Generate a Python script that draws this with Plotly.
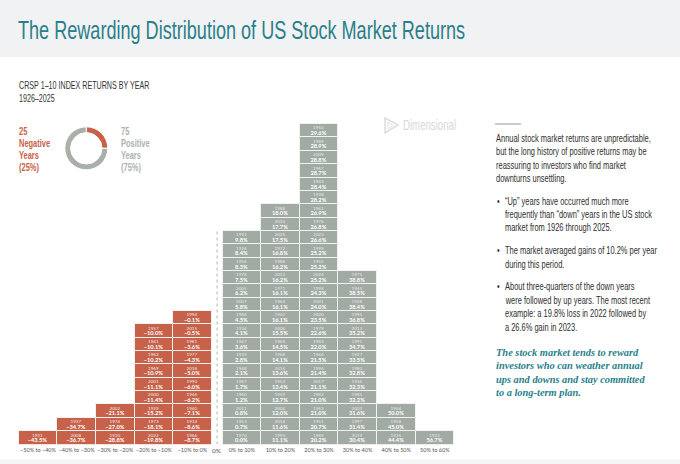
import plotly.graph_objects as go

# Values, lowest return first
years = [
    1931,
    2008, 1937,
    1930, 1974, 2002,
    2022, 1973, 1929, 2000, 2001, 1969, 1962, 1941, 1957,
    1966, 1932, 1940, 1946, 1990, 2018, 1977, 1981, 2015, 1994,
    1970, 1953, 2011, 1960, 1987, 1948, 1939, 1947, 1934, 1984, 2007, 2005, 1978, 1956, 1926, 1992,
    1993, 2014, 2004, 1959, 1952, 2016, 1968, 1965, 2006, 1942, 1964, 1971, 2012, 1986, 1972, 2025, 2010, 1988,
    1949, 1951, 1963, 1982, 2017, 1996, 1944, 1983, 1979, 2020, 2021, 1998, 2024, 1955, 1999, 2023, 1976, 1961,
    1938, 1943, 1967, 2009, 1989, 1950,
    2019, 1997, 2003, 1985, 1936, 1980, 1927, 1991, 2013, 1995, 1928, 1945, 1975,
    1935, 1958, 1954,
    1933,
]
returns = [
    -43.5,
    -36.7, -34.7,
    -28.8, -27.0, -21.1,
    -19.8, -18.1, -15.2, -11.4, -11.1, -10.9, -10.2, -10.1, -10.0,
    -8.7, -8.6, -7.1, -6.2, -6.0, -5.0, -4.3, -3.6, -0.5, -0.1,
    0.0, 0.7, 0.8, 1.2, 1.7, 2.1, 2.8, 3.6, 4.1, 4.5, 5.8, 6.2, 7.5, 8.3, 8.4, 9.8,
    11.1, 11.6, 12.0, 12.7, 13.4, 13.6, 14.1, 14.5, 15.5, 16.1, 16.1, 16.1, 16.2, 16.2, 16.8, 17.5, 17.7, 18.0,
    20.2, 20.7, 21.0, 21.0, 21.1, 21.4, 21.5, 22.0, 22.6, 23.5, 24.0, 24.3, 25.2, 25.2, 25.2, 26.6, 26.8, 26.9,
    28.2, 28.4, 28.7, 28.8, 28.9, 29.6,
    30.4, 31.4, 31.6, 32.2, 32.3, 32.8, 33.5, 34.7, 35.2, 36.8, 38.4, 38.5, 38.8,
    44.4, 45.0, 50.0,
    56.7,
]
bin_labels = ['−50% to −40%', '−40% to −30%', '−30% to −20%', '−20% to −10%', '−10% to 0%',
              '0% to 10%', '10% to 20%', '20% to 30%', '30% to 40%', '40% to 50%', '50% to 60%']
# how many years sit in each bin, in the order of the lists above
bin_counts = [1, 2, 3, 9, 10, 16, 18, 24, 13, 3, 1]
share_labels = ['Negative', 'Positive']
share_values = [25, 75]

RED = '#c8614a'
GREY = '#a1aaa3'
TEAL = '#2a7f8a'
W, H = 680, 464
NARROW = 'Liberation Sans, sans-serif'
SERIF = 'Liberation Serif, serif'
CELL = 'Lato, sans-serif'

# Column spacing in pixels, and a narrow gap for the 0% line
PITCH = 38.6
ROW = 13.35
GAP = 0.28
X0_PX = 38
BASE_PX = 444.5


def px(x):
    return x / W


def py(y):
    return 1 - y / H


def col_x(i):
    return i if i < 5 else i + GAP


x_pos = []
for i, n in enumerate(bin_counts):
    x_pos += [col_x(i)] * n
colors = [RED if r < 0 else GREY for r in returns]
# the base size sets the line spacing, so keep it small and enlarge the value line
cell_text = [
    f"{y}<br><b><span style='font-size:5.7px;color:white'>{'−' if r < 0 else ''}{abs(r):.1f}%</span></b>"
    for y, r in zip(years, returns)
]

fig = go.Figure()

fig.add_trace(go.Bar(
    x=x_pos,
    y=[1] * len(returns),
    width=1,
    text=cell_text,
    textposition='inside',
    insidetextanchor='middle',
    textangle=0,
    constraintext='none',
    textfont=dict(family=CELL, size=4.6, color='#e6e9e6'),
    marker=dict(color=colors, line=dict(color='#f2f2ee', width=1)),
    showlegend=False,
    hoverinfo='skip',
))

# Donut
fig.add_trace(go.Pie(
    labels=share_labels,
    values=share_values,
    hole=0.73,
    sort=False,
    direction='counterclockwise',
    rotation=0,
    textinfo='none',
    marker=dict(colors=[RED, '#a9b0aa'], line=dict(color='white', width=1)),
    domain=dict(x=[px(64.8), px(107.8)], y=[py(169.8), py(126.8)]),
    showlegend=False,
    hoverinfo='skip',
))

# Header band and bottom strip
fig.add_shape(type='rect', xref='paper', yref='paper', x0=0, x1=1, y0=py(57), y1=1,
              fillcolor='#f1f2f4', line_width=0, layer='below')
fig.add_shape(type='rect', xref='paper', yref='paper', x0=0, x1=1, y0=0, y1=py(459),
              fillcolor='#f6f6f6', line_width=0, layer='below')

# Dotted zero line
zero_x = 4.5 + GAP / 2
fig.add_shape(type='line', xref='x', yref='y', x0=zero_x, x1=zero_x, y0=0, y1=16.1,
              line=dict(color='#b5b5b5', width=1, dash='dot'))

# Small rule above the side text
fig.add_shape(type='line', xref='paper', yref='paper', x0=px(495), x1=px(521), y0=py(124), y1=py(124),
              line=dict(color='#b8bcb9', width=1.5))

# Dimensional mark
fig.add_shape(type='path', xref='paper', yref='paper',
              path=f'M {px(385)},{py(118)} L {px(398)},{py(125)} L {px(385)},{py(133)} Z',
              line=dict(color='#dddddd', width=1.5), fillcolor='rgba(0,0,0,0)')
fig.add_shape(type='path', xref='paper', yref='paper',
              path=f'M {px(388)},{py(122)} L {px(393)},{py(125.5)} L {px(388)},{py(129)} Z',
              line=dict(color='#e4e4e4', width=1), fillcolor='rgba(0,0,0,0)')


def note(x, y, text, size, color, family=NARROW, anchor='left'):
    fig.add_annotation(xref='paper', yref='paper', x=px(x), y=py(y), text=text, showarrow=False,
                       xanchor=anchor, yanchor='middle', align=anchor, borderpad=0,
                       font=dict(family=family, size=size, color=color))


note(17, 30, 'The Rewarding Distribution of US Stock Market Returns', 26.6, TEAL)
note(18, 85, 'CRSP 1–10 INDEX RETURNS BY YEAR', 10.5, '#333333')
note(18, 98, '1926–2025', 10.5, '#333333')
note(402, 125, 'Dimensional', 14.2, '#d8d8d8')
note(216.5, 450.5, '0%', 6.5, '#555555', family=CELL, anchor='center')

for y, line in zip([130.5, 142.5, 154.5, 166.5], ['25', 'Negative', 'Years', '(25%)']):
    note(18, y, f'<b>{line}</b>', 11, RED)
for y, line in zip([130.5, 142.5, 154.5, 166.5], ['75', 'Positive', 'Years', '(75%)']):
    note(120, y, f'<b>{line}</b>', 11, '#adb2ae')

body = [
    (495, 137.7, 'Annual stock market returns are unpredictable,'),
    (495, 151.3, 'but the long history of positive returns may be'),
    (495, 164.7, 'reassuring to investors who find market'),
    (495, 178.3, 'downturns unsettling.'),
    (504, 200.7, '“Up” years have occurred much more'),
    (504, 214, 'frequently than “down” years in the US stock'),
    (504, 227.3, 'market from 1926 through 2025.'),
    (504, 250, 'The market averaged gains of 10.2% per year'),
    (504, 263.7, 'during this period.'),
    (504, 286, 'About three-quarters of the down years'),
    (504, 300, 'were followed by up years. The most recent'),
    (504, 313.3, 'example: a 19.8% loss in 2022 followed by'),
    (504, 326.7, 'a 26.6% gain in 2023.'),
]
for x, y, line in body:
    note(x, y, line, 11, '#2e2e2e')
for y in [200.7, 250, 286]:
    note(496, y, '•', 11, '#2e2e2e')

closing = [
    'The stock market tends to reward',
    'investors who can weather annual',
    'ups and downs and stay committed',
    'to a long-term plan.',
]
for y, line in zip([352, 365.7, 379, 392.3], closing):
    note(495, y, f'<b><i>{line}</i></b>', 10.4, TEAL, family=SERIF)

fig.update_layout(
    width=W,
    height=H,
    margin=dict(l=0, r=0, t=0, b=0),
    barmode='stack',
    bargap=0,
    plot_bgcolor='rgba(0,0,0,0)',
    paper_bgcolor='white',
    showlegend=False,
    xaxis=dict(
        range=[-X0_PX / PITCH, (W - X0_PX) / PITCH],
        tickmode='array',
        tickvals=[col_x(i) for i in range(len(bin_labels))],
        ticktext=bin_labels,
        ticks='',
        tickangle=0,
        tickfont=dict(family=CELL, size=6.5, color='#555555'),
        showgrid=False,
        zeroline=False,
        showline=False,
        fixedrange=True,
    ),
    yaxis=dict(
        domain=[py(BASE_PX), 1],
        range=[0, BASE_PX / ROW],
        visible=False,
        fixedrange=True,
    ),
)

# No narrow font is installed, so squeeze the sans notes and tick labels to the reference's width
squeeze = """
document.body.style.margin = '0';
function squeezeX(t, k, about) {
  var old = t.getAttribute('transform') || '';
  t.setAttribute('transform', old + ' translate(' + about + ',0) scale(' + k + ',1) translate(' + (-about) + ',0)');
}
document.querySelectorAll('.annotation-text').forEach(function (t) {
  if (!t.style.fontFamily.includes('Liberation Sans')) return;
  var b = t.getBBox();
  squeezeX(t, 0.68, b.x);
  var bg = t.parentNode.parentNode.querySelector('rect.bg');
  if (bg) bg.setAttribute('width', b.width * 0.68);
});
document.querySelectorAll('.xtick text').forEach(function (t) {
  var b = t.getBBox();
  squeezeX(t, 0.85, b.x + b.width / 2);
});
"""

fig.write_html("out.html", post_script=squeeze, config=dict(displayModeBar=False))
